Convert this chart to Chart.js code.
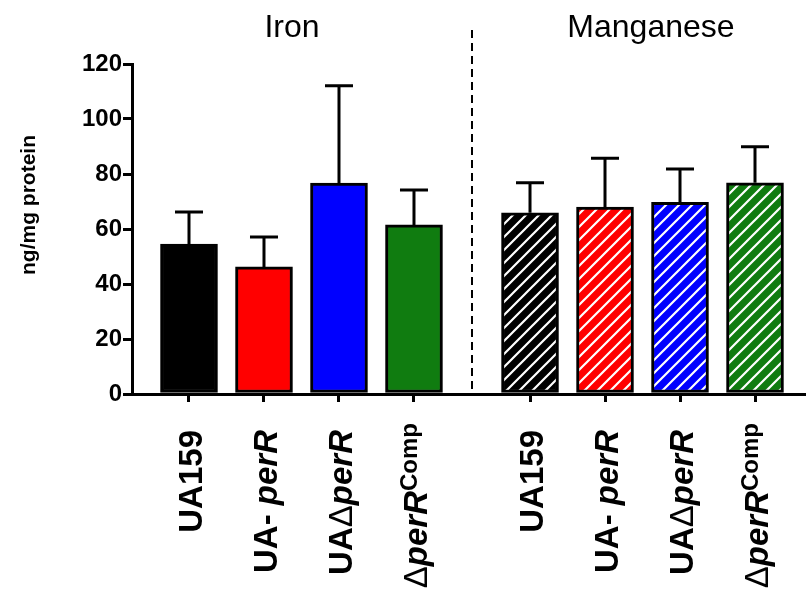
<!DOCTYPE html>
<html>
<head>
<meta charset="utf-8">
<script src="https://cdn.jsdelivr.net/npm/chart.js@4/dist/chart.umd.min.js"></script>
<style>
  body { margin: 0; background: #fff; }
  #wrap { width: 806px; height: 591px; }
</style>
</head>
<body>
<div id="wrap"><canvas id="metals" width="806" height="591"></canvas></div>
<script>
// data
const groups = ['Iron', 'Manganese'];
const strains = ['UA159', 'UA- *perR*', 'UA\u0394*perR*', '\u0394*perR*^Comp'];
const ironMean = [54.5, 46.2, 76.7, 61.5];
const ironSem = [11.7, 10.9, 35.4, 12.7];
const mnMean = [65.9, 68.0, 69.7, 76.8];
const mnSem = [10.9, 17.7, 12.1, 13.1];
const yTicks = [0, 20, 40, 60, 80, 100, 120];
const strainColors = ['#000000', '#ff0000', '#0000ff', '#107c10'];

// layout on the linear x axis (one unit = one bar slot)
const mnOffset = 4.547;
const dividerX = 3.773;
const groupTitleX = [1.373, 6.16];

const FONT = "'Liberation Sans', Arial, Helvetica, sans-serif";

function hatch(color) {
  const c = document.createElement('canvas');
  c.width = 13; c.height = 13;
  const g = c.getContext('2d');
  g.fillStyle = color;
  g.fillRect(0, 0, 13, 13);
  g.strokeStyle = '#fff';
  g.lineWidth = 2.2;
  g.beginPath();
  g.moveTo(0, 13); g.lineTo(13, 0);
  g.moveTo(-6.5, 6.5); g.lineTo(6.5, -6.5);
  g.moveTo(6.5, 19.5); g.lineTo(19.5, 6.5);
  g.stroke();
  return g.createPattern(c, 'repeat');
}

const xPos = [];
const points = [];
const errs = [];
const fills = [];
strains.forEach((s, i) => {
  xPos.push(i);
  points.push({x: i, y: ironMean[i]});
  errs.push(ironSem[i]);
  fills.push(strainColors[i]);
});
strains.forEach((s, i) => {
  xPos.push(i + mnOffset);
  points.push({x: i + mnOffset, y: mnMean[i]});
  errs.push(mnSem[i]);
  fills.push(hatch(strainColors[i]));
});

// split "UA- *perR*^Comp" into styled pieces
function parseLabel(s) {
  const segs = [];
  let italic = false, sup = false, cur = '';
  const push = () => { if (cur) segs.push({text: cur, italic: italic, sup: sup, thin: false}); cur = ''; };
  for (const ch of s) {
    if (ch === '*') { push(); italic = !italic; }
    else if (ch === '^') { push(); sup = true; }
    else if (ch === '\u0394') { push(); segs.push({text: ch, italic: false, sup: false, thin: true}); }
    else cur += ch;
  }
  push();
  return segs;
}

function segFont(seg) {
  if (seg.thin) return 'normal 33px ' + FONT;
  if (seg.sup) return 'bold 24px ' + FONT;
  return (seg.italic ? 'italic ' : '') + 'bold 33px ' + FONT;
}

const decorations = {
  id: 'decorations',
  afterDatasetsDraw(chart) {
    const ctx = chart.ctx;
    const x = chart.scales.x;
    const y = chart.scales.y;
    const area = chart.chartArea;

    // error bars (upper only)
    ctx.save();
    ctx.strokeStyle = '#000';
    ctx.lineWidth = 3;
    points.forEach((p, i) => {
      const px = x.getPixelForValue(p.x);
      const top = y.getPixelForValue(p.y);
      const hi = y.getPixelForValue(p.y + errs[i]);
      ctx.beginPath();
      ctx.moveTo(px, top);
      ctx.lineTo(px, hi);
      ctx.moveTo(px - 14, hi);
      ctx.lineTo(px + 14, hi);
      ctx.stroke();
    });
    ctx.restore();

    // dashed divider
    ctx.save();
    ctx.strokeStyle = '#000';
    ctx.lineWidth = 2;
    ctx.setLineDash([8, 5]);
    const dx = Math.round(x.getPixelForValue(dividerX));
    ctx.beginPath();
    ctx.moveTo(dx, 30);
    ctx.lineTo(dx, area.bottom);
    ctx.stroke();
    ctx.restore();

    // group titles
    ctx.save();
    ctx.fillStyle = '#000';
    ctx.font = 'normal 32px ' + FONT;
    ctx.textAlign = 'center';
    ctx.textBaseline = 'alphabetic';
    groups.forEach((g, i) => {
      ctx.fillText(g, x.getPixelForValue(groupTitleX[i]), 37);
    });
    ctx.restore();

    // y axis title
    ctx.save();
    ctx.fillStyle = '#000';
    ctx.font = 'bold 21px ' + FONT;
    ctx.textAlign = 'center';
    ctx.textBaseline = 'middle';
    ctx.translate(29, 205);
    ctx.rotate(-Math.PI / 2);
    ctx.fillText('ng/mg protein', 0, 0);
    ctx.restore();

    // rotated strain labels
    const labelSegs = strains.map(parseLabel);
    xPos.forEach((v, i) => {
      const segs = labelSegs[i % strains.length];
      let w = 0;
      segs.forEach(seg => { ctx.font = segFont(seg); w += ctx.measureText(seg.text).width; });
      const endY = segs[segs.length - 1].sup ? 423 : 430;
      ctx.save();
      ctx.translate(x.getPixelForValue(v) + 13, endY);
      ctx.rotate(-Math.PI / 2);
      ctx.fillStyle = '#000';
      ctx.textAlign = 'left';
      ctx.textBaseline = 'alphabetic';
      let cx = -w;
      segs.forEach(seg => {
        ctx.font = segFont(seg);
        ctx.fillText(seg.text, cx, seg.sup ? -10 : 0);
        cx += ctx.measureText(seg.text).width;
      });
      ctx.restore();
    });
  }
};

new Chart(document.getElementById('metals'), {
  type: 'bar',
  data: {
    datasets: [{
      data: points,
      backgroundColor: fills,
      borderColor: '#000',
      borderWidth: 3,
      borderSkipped: false,
      barThickness: 57
    }]
  },
  options: {
    responsive: false,
    animation: false,
    layout: { padding: { top: 64, left: 0, right: 0, bottom: 0 } },
    plugins: {
      legend: { display: false },
      tooltip: { enabled: false }
    },
    scales: {
      x: {
        type: 'linear',
        offset: false,
        min: -0.76,
        max: 8.227,
        afterBuildTicks: axis => { axis.ticks = xPos.map(v => ({ value: v })); },
        afterFit: axis => { axis.height = 197; },
        grid: { offset: false, drawOnChartArea: false, drawTicks: true, tickLength: 8, color: '#000', lineWidth: 3 },
        border: { display: true, color: '#000', width: 3 },
        ticks: { display: false }
      },
      y: {
        min: 0,
        max: 120,
        afterBuildTicks: axis => { axis.ticks = yTicks.map(v => ({ value: v })); },
        afterFit: axis => { axis.width = 132; },
        grid: { drawOnChartArea: false, drawTicks: true, tickLength: 9, color: '#000', lineWidth: 3 },
        border: { display: true, color: '#000', width: 3 },
        ticks: {
          color: '#000',
          padding: 1,
          font: { family: FONT, weight: 'bold', size: 24 }
        }
      }
    }
  },
  plugins: [decorations]
});
</script>
</body>
</html>
